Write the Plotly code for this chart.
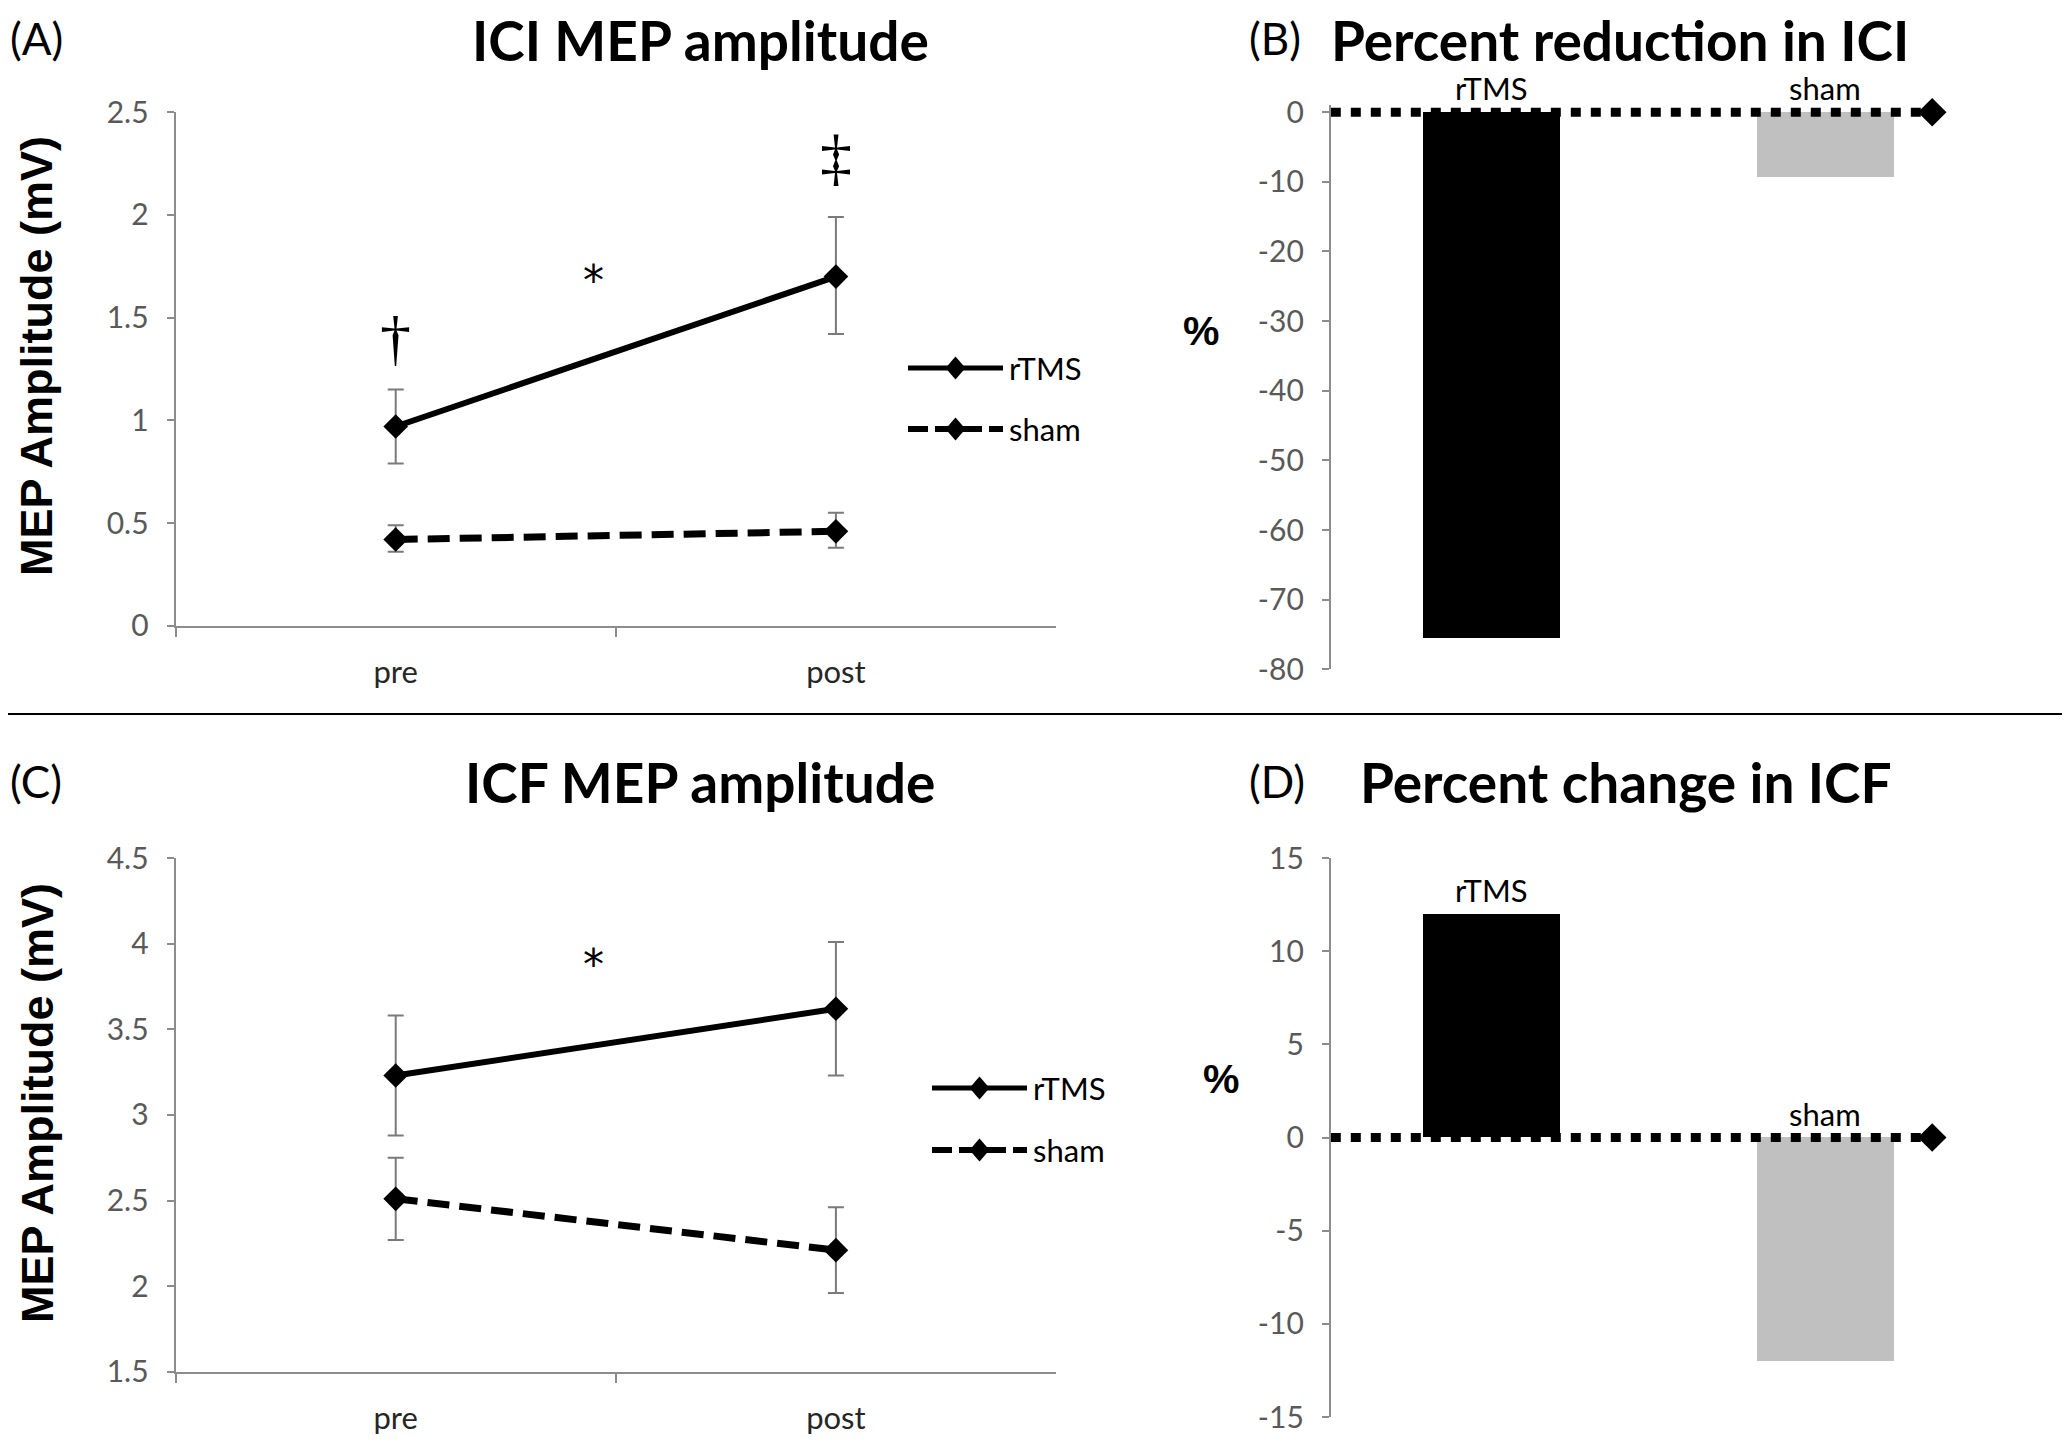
import plotly.graph_objects as go

# ---------------- data ----------------
categories = ["pre", "post"]
ici_rtms = [0.97, 1.70]
ici_rtms_err_up = [0.18, 0.29]
ici_rtms_err_dn = [0.18, 0.28]
ici_sham = [0.42, 0.46]
ici_sham_err_up = [0.07, 0.09]
ici_sham_err_dn = [0.06, 0.08]

icf_rtms = [3.23, 3.62]
icf_rtms_err_up = [0.35, 0.39]
icf_rtms_err_dn = [0.35, 0.39]
icf_sham = [2.51, 2.21]
icf_sham_err_up = [0.24, 0.25]
icf_sham_err_dn = [0.24, 0.25]

groups = ["rTMS", "sham"]
ici_pct_change = [-75.5, -9.3]
icf_pct_change = [12.0, -12.0]
zero_ref_x = [-0.48, 1.32]
zero_ref_y = [0, 0]

ici_ticks = [0, 0.5, 1, 1.5, 2, 2.5]
icf_ticks = [1.5, 2, 2.5, 3, 3.5, 4, 4.5]
pctB_ticks = [0, -10, -20, -30, -40, -50, -60, -70, -80]
pctD_ticks = [15, 10, 5, 0, -5, -10, -15]

# ---------------- layout helpers ----------------
OFF = 8                      # default page margin around the plot div
W, H = 2070 - 2 * OFF, 1443 - 2 * OFF
FONT = "Lato"
GRAY_AX = "#8c8c8c"
GRAY_TXT = "#595959"
BAR_COLORS = ["#000000", "#c0c0c0"]


def px_x(x):
    return (x - OFF) / W


def px_y(y):
    return 1 - (y - OFF) / H


fig = go.Figure()

# ---- Panel A & C: line charts ----
def add_lines(xa, ya, rt, rt_up, rt_dn, sh, sh_up, sh_dn):
    fig.add_trace(go.Scatter(
        x=categories, y=rt, xaxis=xa, yaxis=ya, mode="lines+markers",
        line=dict(color="black", width=6),
        marker=dict(symbol="diamond", size=19, color="black", line=dict(width=0)),
        error_y=dict(type="data", array=rt_up, arrayminus=rt_dn, symmetric=False,
                     color="#7a7a7a", thickness=2, width=8),
        showlegend=False, cliponaxis=False))
    fig.add_trace(go.Scatter(
        x=categories, y=sh, xaxis=xa, yaxis=ya, mode="lines+markers",
        line=dict(color="black", width=7, dash="22px,10px"),
        marker=dict(symbol="diamond", size=19, color="black", line=dict(width=0)),
        error_y=dict(type="data", array=sh_up, arrayminus=sh_dn, symmetric=False,
                     color="#7a7a7a", thickness=2, width=8),
        showlegend=False, cliponaxis=False))


add_lines("x", "y", ici_rtms, ici_rtms_err_up, ici_rtms_err_dn,
          ici_sham, ici_sham_err_up, ici_sham_err_dn)
add_lines("x3", "y3", icf_rtms, icf_rtms_err_up, icf_rtms_err_dn,
          icf_sham, icf_sham_err_up, icf_sham_err_dn)

# ---- Panel B & D: bar charts ----
def add_bars(xa, ya, vals):
    idx = list(range(len(groups)))
    fig.add_trace(go.Bar(
        x=idx, y=vals, xaxis=xa, yaxis=ya, width=0.41,
        marker=dict(color=BAR_COLORS, line=dict(width=0)),
        showlegend=False))
    fig.add_trace(go.Scatter(
        x=zero_ref_x, y=zero_ref_y, xaxis=xa, yaxis=ya, mode="lines",
        line=dict(color="black", width=9, dash="10px,10px"),
        showlegend=False, cliponaxis=False))
    fig.add_trace(go.Scatter(
        x=zero_ref_x[-1:], y=zero_ref_y[-1:], xaxis=xa, yaxis=ya, mode="markers",
        marker=dict(symbol="diamond", size=22, color="black", line=dict(width=0)),
        showlegend=False, cliponaxis=False))
    for i, (g, v) in enumerate(zip(groups, vals)):
        fig.add_annotation(x=i, y=max(v, 0), xref=xa, yref=ya, text=g,
                           showarrow=False, xanchor="center", yanchor="middle",
                           yshift=24, font=dict(family=FONT, size=31, color="black"))


add_bars("x2", "y2", ici_pct_change)
add_bars("x4", "y4", icf_pct_change)

# ---------------- axes ----------------
dom_left = [px_x(175.6), px_x(1056)]
dom_right = [px_x(1330.8), px_x(1999)]

line_x_common = dict(
    type="category", range=[-0.5, 1.5], tickson="boundaries", ticks="outside",
    ticklen=9, tickcolor=GRAY_AX, tickwidth=2, showline=True, linecolor=GRAY_AX,
    linewidth=2, showgrid=False, zeroline=False, automargin=False,
    tickfont=dict(family=FONT, size=31, color="#262626"), ticklabelstandoff=18,
)
line_y_common = dict(
    ticks="outside", ticklen=7, tickcolor=GRAY_AX, tickwidth=2, showline=True,
    linecolor=GRAY_AX, linewidth=2, showgrid=False, zeroline=False, automargin=False,
    tickfont=dict(family=FONT, size=30, color=GRAY_TXT), ticklabelstandoff=12,
    ticklabeloverflow="allow",
)
bar_x_common = dict(range=[-0.48, 1.52], visible=False, automargin=False)

# B: keep value 0 at y=112.2px, extend range 1 unit so the dotted zero line isn't clipped
b_px_per_unit = (669.3 - 112.2) / 80.0

fig.update_layout(
    template="none",
    xaxis=dict(domain=dom_left, anchor="y", **line_x_common),
    yaxis=dict(domain=[px_y(625.8), px_y(112.2)], anchor="x", range=[0, 2.5],
               tickvals=ici_ticks, **line_y_common),
    xaxis3=dict(domain=dom_left, anchor="y3", **line_x_common),
    yaxis3=dict(domain=[px_y(1371.7), px_y(858.1)], anchor="x3", range=[1.5, 4.5],
                tickvals=icf_ticks, **line_y_common),
    xaxis2=dict(domain=dom_right, anchor="y2", **bar_x_common),
    yaxis2=dict(domain=[px_y(669.3), px_y(112.2 - b_px_per_unit)], anchor="x2",
                range=[-80, 1], tickvals=pctB_ticks,
                ticktext=[str(v) for v in pctB_ticks], **line_y_common),
    xaxis4=dict(domain=dom_right, anchor="y4", **bar_x_common),
    yaxis4=dict(domain=[px_y(1417), px_y(858.1)], anchor="x4", range=[-15, 15],
                tickvals=pctD_ticks, ticktext=[str(v) for v in pctD_ticks],
                **line_y_common),
    width=W, height=H, margin=dict(l=0, r=0, t=0, b=0, autoexpand=False),
    paper_bgcolor="white", plot_bgcolor="white", showlegend=False,
    bargap=0,
)

# ---------------- text annotations ----------------
def ann(x, y, text, size, bold=False, color="black", family=FONT,
        xanchor="center", yanchor="middle", **kw):
    fig.add_annotation(x=px_x(x), y=px_y(y), xref="paper", yref="paper",
                       text=("<b>%s</b>" % text) if bold else text,
                       showarrow=False, xanchor=xanchor, yanchor=yanchor,
                       font=dict(family=family, size=size, color=color), **kw)


# panel letters
ann(8, 38, "(A)", 44, xanchor="left")
ann(1247, 38, "(B)", 44, xanchor="left")
ann(8, 781, "(C)", 44, xanchor="left")
ann(1247, 781, "(D)", 44, xanchor="left")
# titles
ann(700, 40, "ICI MEP amplitude", 55, bold=True)
ann(1329, 40, "Percent reduction in ICI", 55, bold=True, xanchor="left")
ann(700, 782, "ICF MEP amplitude", 55, bold=True)
ann(1358, 782, "Percent change in ICF", 55, bold=True, xanchor="left")
# y titles
ann(37, 356, "MEP Amplitude (mV)", 45, bold=True, family="Liberation Sans", textangle=-90)
ann(37, 1103, "MEP Amplitude (mV)", 45, bold=True, family="Liberation Sans", textangle=-90)
ann(1201, 331, "%", 41, bold=True, family="Liberation Sans")
ann(1221, 1079, "%", 41, bold=True, family="Liberation Sans")

# significance markers (data coordinates)
fig.add_annotation(x=0.45, y=1.68, xref="x", yref="y", text="*", showarrow=False,
                   font=dict(family="DejaVu Sans", size=42, color="black"))
fig.add_annotation(x=0, y=1.40, xref="x", yref="y", text="†", showarrow=False,
                   font=dict(family="Liberation Serif", size=62, color="black"))
fig.add_annotation(x=1, y=2.28, xref="x", yref="y", text="‡", showarrow=False,
                   font=dict(family="Liberation Serif", size=64, color="black"))
fig.add_annotation(x=0.45, y=3.88, xref="x3", yref="y3", text="*", showarrow=False,
                   font=dict(family="DejaVu Sans", size=42, color="black"))

# ---------------- manual legends ----------------
def legend_item(x0, x1, y, dash, label):
    fig.add_shape(type="line", xref="paper", yref="paper",
                  x0=px_x(x0), x1=px_x(x1), y0=px_y(y), y1=px_y(y),
                  line=dict(color="black", width=5 if dash is None else 6,
                            dash=dash or "solid"))
    cx, r = (x0 + x1) / 2, 10
    path = "M %f %f L %f %f L %f %f L %f %f Z" % (
        px_x(cx - r), px_y(y), px_x(cx), px_y(y - r * 1.15),
        px_x(cx + r), px_y(y), px_x(cx), px_y(y + r * 1.15))
    fig.add_shape(type="path", xref="paper", yref="paper", path=path,
                  fillcolor="black", line=dict(color="black", width=0))
    ann(x1 + 4, y, label, 31, xanchor="left")


legend_item(908, 1003, 368, None, "rTMS")
legend_item(908, 1003, 429, "20px,7px", "sham")
legend_item(932, 1027, 1088, None, "rTMS")
legend_item(932, 1027, 1150, "20px,7px", "sham")

# separator line
fig.add_shape(type="line", xref="paper", yref="paper", x0=0, x1=px_x(2062),
              y0=px_y(714), y1=px_y(714), line=dict(color="black", width=2))

fig.write_html("out.html")
